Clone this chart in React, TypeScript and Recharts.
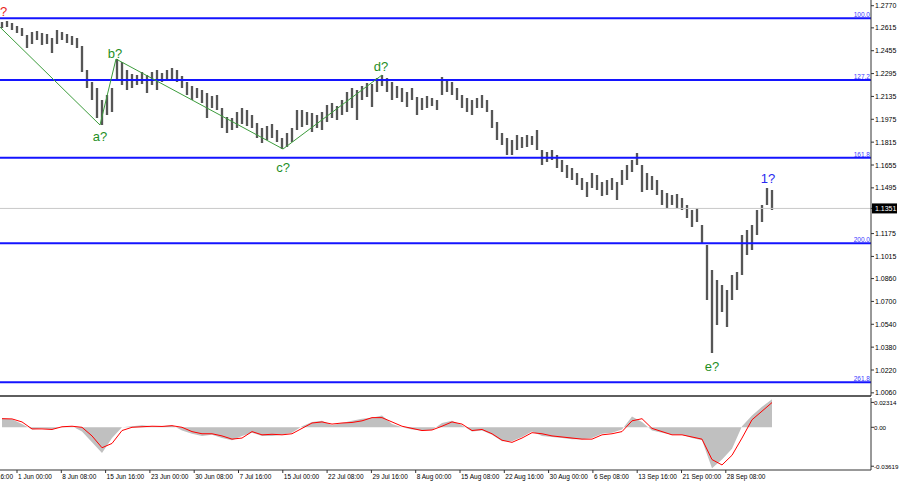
import React from 'react';
import { ComposedChart, Bar, Line, Area, XAxis, YAxis, ReferenceLine, ReferenceDot } from 'recharts';

// ---- price bars (H4 groups), high / low ----
const highs = [
  1.2656, 1.2663, 1.2649, 1.2628, 1.2614, 1.2565, 1.2586, 1.2593, 1.2579, 1.2572,
  1.2544, 1.2600, 1.2586, 1.2572, 1.2558, 1.2544, 1.2488, 1.2320, 1.2236, 1.2194,
  1.2110, 1.2145, 1.2194, 1.2397, 1.2376, 1.2320, 1.2292, 1.2285, 1.2306, 1.2285,
  1.2306, 1.2320, 1.2299, 1.2320, 1.2334, 1.2320, 1.2278, 1.2236, 1.2208, 1.2194,
  1.2180, 1.2159, 1.2138, 1.2145, 1.2054, 1.1991, 1.1984, 1.2026, 1.2054, 1.2040,
  1.2005, 1.1949, 1.1914, 1.1928, 1.1942, 1.1900, 1.1844, 1.1879, 1.1914, 1.2040,
  1.2040, 1.2026, 1.2019, 1.2005, 1.2026, 1.2075, 1.2089, 1.2068, 1.2110, 1.2166,
  1.2194, 1.2180, 1.2208, 1.2229, 1.2222, 1.2264, 1.2285, 1.2264, 1.2236, 1.2208,
  1.2194, 1.2166, 1.2194, 1.2131, 1.2124, 1.2138, 1.2124, 1.2110, 1.2271, 1.2250,
  1.2236, 1.2194, 1.2145, 1.2124, 1.2110, 1.2124, 1.2145, 1.2110, 1.2040, 1.1956,
  1.1879, 1.1844, 1.1830, 1.1865, 1.1851, 1.1865, 1.1858, 1.1900, 1.1760, 1.1746,
  1.1760, 1.1725, 1.1690, 1.1655, 1.1634, 1.1599, 1.1564, 1.1536, 1.1599, 1.1585,
  1.1536, 1.1550, 1.1564, 1.1536, 1.1620, 1.1655, 1.1690, 1.1739, 1.1655, 1.1599,
  1.1578, 1.1550, 1.1480, 1.1459, 1.1445, 1.1452, 1.1424, 1.1375, 1.1340, 1.1354,
  1.1235, 1.1095, 1.0920, 1.0850, 1.0815, 1.0780, 1.0885, 1.0906, 1.1165, 1.1200,
  1.1235, 1.1340, 1.1375, 1.1494, 1.1480,
];
const lows = [
  1.2614, 1.2621, 1.2600, 1.2579, 1.2558, 1.2474, 1.2502, 1.2530, 1.2495, 1.2502,
  1.2439, 1.2502, 1.2530, 1.2509, 1.2495, 1.2474, 1.2306, 1.2194, 1.2110, 1.1984,
  1.1935, 1.2005, 1.2026, 1.2250, 1.2215, 1.2180, 1.2194, 1.2215, 1.2222, 1.2159,
  1.2215, 1.2180, 1.2236, 1.2250, 1.2250, 1.2236, 1.2194, 1.2145, 1.2110, 1.2124,
  1.2089, 1.1984, 1.2054, 1.2040, 1.1914, 1.1879, 1.1900, 1.1914, 1.1942, 1.1928,
  1.1914, 1.1844, 1.1809, 1.1830, 1.1844, 1.1816, 1.1767, 1.1781, 1.1816, 1.1900,
  1.1921, 1.1935, 1.1886, 1.1914, 1.1900, 1.1956, 1.1984, 1.1970, 1.2005, 1.2026,
  1.2054, 1.1970, 1.2110, 1.2131, 1.2061, 1.2166, 1.2208, 1.2166, 1.2110, 1.2124,
  1.2096, 1.2061, 1.2110, 1.2005, 1.2040, 1.2054, 1.2068, 1.2040, 1.2145, 1.2166,
  1.2145, 1.2110, 1.2054, 1.2026, 1.2005, 1.2054, 1.2054, 1.2026, 1.1914, 1.1830,
  1.1795, 1.1725, 1.1725, 1.1760, 1.1774, 1.1781, 1.1795, 1.1760, 1.1655, 1.1676,
  1.1690, 1.1634, 1.1606, 1.1564, 1.1550, 1.1515, 1.1480, 1.1431, 1.1494, 1.1480,
  1.1438, 1.1445, 1.1480, 1.1410, 1.1515, 1.1550, 1.1606, 1.1655, 1.1466, 1.1480,
  1.1480, 1.1445, 1.1375, 1.1354, 1.1375, 1.1354, 1.1340, 1.1284, 1.1221, 1.1256,
  1.1109, 1.0710, 1.0339, 1.0535, 1.0626, 1.0521, 1.0710, 1.0780, 1.0885, 1.1025,
  1.1060, 1.1165, 1.1256, 1.1375, 1.1340,
];

const priceTicks = [1.2770, 1.2615, 1.2455, 1.2295, 1.2135, 1.1975, 1.1815, 1.1655, 1.1495, 1.1351,
  1.1175, 1.1015, 1.0860, 1.0700, 1.0540, 1.0380, 1.0220, 1.0060];
const currentPrice = 1.1351;

const fibLevels = [1.2682, 1.2250, 1.1706, 1.1107, 1.0134];
const fibLabels = ['100.0', '127.2', '161.8', '200.0', '261.8'];

const wavePos = [-0.4, 19.6, 22.8, 56.2, 76];
const wavePrices = [1.2620, 1.1935, 1.2397, 1.1767, 1.2285];

const waveLabels = ['?', 'a?', 'b?', 'c?', 'd?', 'e?', '1?'];
const waveLabelPos = [0.3, 19.6, 22.6, 56.2, 75.8, 142, 153.2];
const waveLabelPrices = [1.2733, 1.1855, 1.2439, 1.1641, 1.2348, 1.0248, 1.1564];
const waveLabelColors = ['#e8251b', '#1f8f1f', '#1f8f1f', '#1f8f1f', '#1f8f1f', '#1f8f1f', '#2a2af0'];

// ---- oscillator (every 2nd bar group) ----
const macd = [
  0.0085, 0.0075, 0.003, -0.002, -0.001, -0.002, 0.0005, 0.001, -0.004, -0.014,
  -0.024, -0.010, 0.000, 0.001, 0.002, 0.001, 0.001, 0.002, -0.003, -0.006,
  -0.008, -0.007, -0.010, -0.012, -0.008, -0.005, -0.008, -0.008, -0.007, -0.005,
  0.001, 0.005, 0.006, 0.002, 0.004, 0.006, 0.008, 0.009, 0.011, 0.003,
  0.000, -0.002, -0.003, -0.0025, 0.004, 0.006, 0.002, -0.004, -0.003, -0.007,
  -0.013, -0.013, -0.009, -0.004, -0.008, -0.009, -0.010, -0.011, -0.011, -0.010,
  -0.006, -0.005, -0.002, 0.010, 0.005, -0.003, -0.005, -0.007, -0.007, -0.010,
  -0.012, -0.038, -0.030, -0.020, 0.001, 0.011, 0.019, 0.026,
];
const signal = [
  0.0080, 0.0078, 0.005, -0.0015, -0.0015, -0.002, 0.0005, 0.001, 0.000, -0.008,
  -0.019, -0.015, -0.003, 0.000, 0.0005, 0.001, 0.0008, 0.0015, 0.000, -0.004,
  -0.006, -0.006, -0.008, -0.011, -0.010, -0.004, -0.007, -0.0065, -0.007, -0.006,
  -0.001, 0.004, 0.005, 0.003, 0.004, 0.0045, 0.006, 0.009, 0.009, 0.005,
  0.001, -0.001, -0.003, -0.0025, 0.001, 0.005, 0.003, -0.003, -0.002, -0.006,
  -0.012, -0.014, -0.010, -0.005, -0.006, -0.008, -0.009, -0.010, -0.011, -0.011,
  -0.007, -0.006, -0.004, 0.006, 0.008, -0.001, -0.004, -0.007, -0.007, -0.009,
  -0.011, -0.030, -0.035, -0.026, -0.010, 0.007, 0.015, 0.023,
];
const indTicks = [0.02314, 0, -0.03619];
const indTickLabels = ['0.02314', '0.00', '-0.03619'];

const timeLabels = ['24 May 16:00', '1 Jun 00:00', '8 Jun 08:00', '15 Jun 16:00', '23 Jun 00:00',
  '30 Jun 08:00', '7 Jul 16:00', '15 Jul 00:00', '22 Jul 08:00', '29 Jul 16:00', '8 Aug 00:00',
  '15 Aug 08:00', '22 Aug 16:00', '30 Aug 00:00', '6 Sep 08:00', '13 Sep 16:00', '21 Sep 00:00',
  '28 Sep 08:00'];
const timeTickPos = [-5.86, 3.0, 11.86, 20.72, 29.58, 38.44, 47.3, 56.16, 65.02, 73.88, 82.74,
  91.6, 100.46, 109.32, 118.18, 127.04, 135.9, 144.76];

const X_DOMAIN: [number, number] = [-0.4, 173.8];
const FONT = 'Liberation Sans, Arial, sans-serif';

const bars = highs.map((h, i) => ({ i, high: h, low: lows[i] }));
const ind = macd.map((m, k) => ({ i: k * 2, macd: m, signal: signal[k] }));

const PriceBar = (props: any) => {
  const { x, y, width, height } = props;
  if (x == null || y == null) return null;
  const cx = x + width / 2;
  const top = Math.min(y, y + height);
  const h = Math.abs(height);
  return (
    <g>
      <rect x={cx - 1.2} y={top} width={2.4} height={h} fill="#7a7a7a" />
      <rect x={cx - 0.5} y={top} width={1} height={h} fill="#333" />
    </g>
  );
};

const PriceTick = (props: any) => {
  const { x, y, payload } = props;
  const v = payload.value as number;
  if (Math.abs(v - currentPrice) < 1e-6) {
    return (
      <g>
        <rect x={x - 3} y={y - 5} width={25} height={10} fill="#000" />
        <text x={x} y={y} dy={2.5} fontSize={7} fill="#fff" fontFamily={FONT}>{v.toFixed(4)}</text>
      </g>
    );
  }
  return <text x={x} y={y} dy={2.5} fontSize={7} fill="#000" fontFamily={FONT}>{v.toFixed(4)}</text>;
};

const IndTick = (props: any) => {
  const { x, y, payload } = props;
  const idx = indTicks.indexOf(payload.value);
  return <text x={x - 1} y={y} dy={2.5} fontSize={6.2} fill="#000" fontFamily={FONT}>{indTickLabels[idx]}</text>;
};

const TimeTick = (props: any) => {
  const { x, y, payload } = props;
  const idx = timeTickPos.indexOf(payload.value);
  return <text x={x + 1} y={y} dy={5} fontSize={6.5} fill="#000" fontFamily={FONT} textAnchor="start">{timeLabels[idx]}</text>;
};

export default function App() {
  return (
    <div style={{ position: 'absolute', left: 0, top: 0, width: 900, height: 485, background: '#fff', overflow: 'hidden', fontFamily: FONT }}>
      <div style={{ position: 'absolute', left: 0, top: 0 }}>
        <ComposedChart width={900} height={398} data={bars} margin={{ top: 0, right: 0, bottom: 0, left: 0 }}>
          <XAxis dataKey="i" type="number" domain={X_DOMAIN} allowDataOverflow ticks={[]} height={2}
            tick={false} tickLine={false} axisLine={{ stroke: '#5e5e5e', strokeWidth: 2 }} />
          <YAxis orientation="right" width={29} type="number" domain={[1.0038, 1.2810]} allowDataOverflow
            ticks={priceTicks} interval={0} tickSize={3} tickMargin={1} tick={<PriceTick />}
            axisLine={{ stroke: '#333' }} tickLine={{ stroke: '#333' }} />
          <ReferenceLine y={currentPrice} stroke="#c8c8c8" strokeWidth={1} />
          {fibLevels.map((lv, k) => (
            <ReferenceLine key={k} y={lv} stroke="#1414ff" strokeWidth={2}
              label={{ value: fibLabels[k], position: 'insideBottomRight', offset: 1, fill: '#3a3aff', fontSize: 6.5, fontFamily: FONT }} />
          ))}
          <Bar dataKey={(d: any) => [d.low, d.high]} barSize={3} fill="#444" shape={<PriceBar />} isAnimationActive={false} />
          {wavePos.slice(1).map((p, k) => (
            <ReferenceLine key={'w' + k} ifOverflow="visible" stroke="#3c9c3c" strokeWidth={1}
              segment={[{ x: wavePos[k], y: wavePrices[k] }, { x: p, y: wavePrices[k + 1] }]} />
          ))}
          {waveLabels.map((t, k) => (
            <ReferenceDot key={t} x={waveLabelPos[k]} y={waveLabelPrices[k]} r={0} fill="none" stroke="none"
              label={{ value: t, position: 'center', fill: waveLabelColors[k], fontSize: 13, fontFamily: FONT }} />
          ))}
        </ComposedChart>
      </div>
      <div style={{ position: 'absolute', left: 0, top: 398 }}>
        <ComposedChart width={900} height={87} data={ind} margin={{ top: 0, right: 0, bottom: 0, left: 0 }}>
          <XAxis dataKey="i" type="number" domain={X_DOMAIN} allowDataOverflow ticks={timeTickPos} interval={0}
            height={15} tickSize={3} tickMargin={1} tick={<TimeTick />} axisLine={{ stroke: '#333' }} tickLine={{ stroke: '#333' }} />
          <YAxis orientation="right" width={29} type="number" domain={[-0.0397, 0.02725]} allowDataOverflow
            ticks={indTicks} interval={0} tickSize={3} tickMargin={1} tick={<IndTick />}
            axisLine={{ stroke: '#333' }} tickLine={{ stroke: '#333' }} />
          <Area dataKey="macd" type="linear" baseValue={0} fill="#c0c0c0" fillOpacity={1} stroke="none" isAnimationActive={false} />
          <Line dataKey="signal" type="linear" stroke="#ff0000" strokeWidth={1} dot={false} isAnimationActive={false} />
        </ComposedChart>
      </div>
    </div>
  );
}
